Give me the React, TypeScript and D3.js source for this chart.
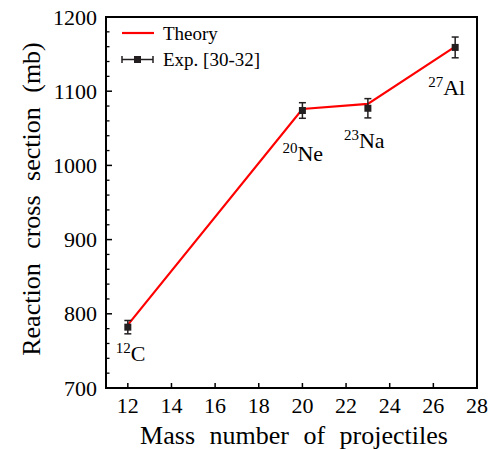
import React from "react";
import * as d3 from "d3";

const massNumbers = [12, 20, 23, 27];
const theoryValues = [785, 1076, 1083, 1160];
const expValues = [782, 1074, 1077, 1159];
const expErrors = [9, 10.5, 13, 14];
const nucleusMass = ["12", "20", "23", "27"];
const nucleusSymbol = ["C", "Ne", "Na", "Al"];
const xTicks = [12, 14, 16, 18, 20, 22, 24, 26, 28];
const yTicks = [700, 800, 900, 1000, 1100, 1200];
const legendLabels = ["Theory", "Exp. [30-32]"];

const W = 492, H = 449;
const L = 106, R = 477, T = 17, B = 388;
const FF = "Liberation Serif";

export default function App() {
  const x = d3.scaleLinear().domain([11, 28]).range([L, R]);
  const y = d3.scaleLinear().domain([700, 1200]).range([B, T]);
  const minorY = d3.range(700, 1201, 20).filter((v) => v % 100 !== 0);
  const line = d3
    .line<number>()
    .x((_, i) => x(massNumbers[i]))
    .y((d) => y(d));

  const labelPos = [
    { dx: -12, dy: 34 },
    { dx: -20, dy: 51 },
    { dx: -24, dy: 40 },
    { dx: -27, dy: 48 },
  ];

  const T_ = (props: any) => (
    <text fill="#000" {...props} fontFamily={FF} style={{ fontFamily: FF }} />
  );

  return (
    <svg width={W} height={H} style={{ position: "absolute", left: 0, top: 0, background: "#fff" }}>
      <style>{`text, tspan { font-family: 'Liberation Serif', 'Times New Roman', serif !important; }`}</style>
      <rect x={0} y={0} width={W} height={H} fill="#fff" />
      {minorY.map((v) => (
        <line key={"my" + v} x1={L} x2={L + 3.5} y1={y(v)} y2={y(v)} stroke="#000" strokeWidth={1.3} />
      ))}
      {yTicks.map((v) => (
        <g key={"y" + v}>
          <line x1={L} x2={L + 6} y1={y(v)} y2={y(v)} stroke="#000" strokeWidth={1.5} />
          <T_ x={L - 9} y={y(v) + 7.5} textAnchor="end" fontSize={22}>
            {String(v)}
          </T_>
        </g>
      ))}
      {xTicks.map((v) => (
        <g key={"x" + v}>
          <line x1={x(v)} x2={x(v)} y1={B} y2={B - 5} stroke="#000" strokeWidth={1.5} />
          <T_ x={x(v)} y={413} textAnchor="middle" fontSize={22}>
            {String(v)}
          </T_>
        </g>
      ))}
      <rect x={L} y={T} width={R - L} height={B - T} fill="none" stroke="#000" strokeWidth={2} />

      <path d={line(theoryValues) || ""} fill="none" stroke="#ff0000" strokeWidth={2.2} />

      {expValues.map((v, i) => {
        const cx = x(massNumbers[i]);
        const top = y(v + expErrors[i]);
        const bot = y(v - expErrors[i]);
        return (
          <g key={"e" + i} stroke="#231f20" fill="#231f20">
            <line x1={cx} x2={cx} y1={top} y2={bot} strokeWidth={1.5} />
            <line x1={cx - 3.5} x2={cx + 3.5} y1={top} y2={top} strokeWidth={1.5} />
            <line x1={cx - 3.5} x2={cx + 3.5} y1={bot} y2={bot} strokeWidth={1.5} />
            <rect x={cx - 3.5} y={y(v) - 3.5} width={7} height={7} stroke="none" />
          </g>
        );
      })}

      {expValues.map((v, i) => {
        const cx = x(massNumbers[i]) + labelPos[i].dx;
        const cy = y(v) + labelPos[i].dy;
        return (
          <T_ key={"n" + i} x={cx} y={cy} fontSize={22}>
            <tspan fontSize={15} dy={-8}>{nucleusMass[i]}</tspan>
            <tspan dy={8}>{nucleusSymbol[i]}</tspan>
          </T_>
        );
      })}

      <line x1={122} x2={154} y1={33} y2={33} stroke="#ff0000" strokeWidth={2.2} />
      <T_ x={163} y={40} fontSize={19}>{legendLabels[0]}</T_>
      <g stroke="#231f20" fill="#231f20">
        <line x1={122} x2={153} y1={59.5} y2={59.5} strokeWidth={1.5} />
        <line x1={122} x2={122} y1={56} y2={63} strokeWidth={1.5} />
        <line x1={153} x2={153} y1={56} y2={63} strokeWidth={1.5} />
        <rect x={134} y={56} width={7} height={7} stroke="none" />
      </g>
      <T_ x={163} y={66} fontSize={19}>{legendLabels[1]}</T_>

      <T_ x={294} y={444} textAnchor="middle" fontSize={26} wordSpacing={8}>
        Mass number of projectiles
      </T_>
      <T_
        transform={`translate(40, 199) rotate(-90)`}
        textAnchor="middle"
        fontSize={26}
        wordSpacing={8}
      >
        Reaction cross section (mb)
      </T_>
    </svg>
  );
}
